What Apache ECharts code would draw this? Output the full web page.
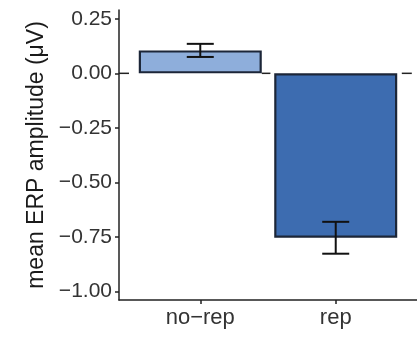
<!DOCTYPE html>
<html>
<head>
<meta charset="utf-8">
<script src="https://cdn.jsdelivr.net/npm/echarts@6/dist/echarts.min.js"></script>
<style>
html,body{margin:0;padding:0;background:#fff;}
#chart{width:417px;height:344px;}
</style>
</head>
<body>
<div id="chart"></div>
<script>
const categories = ['no\u2212rep', 'rep'];
const means = [0.105, -0.753];
const errors = [0.030, 0.073];
const barColors = ['#8eaedb', '#3d6cb0'];
const yTicks = [-1.00, -0.75, -0.50, -0.25, 0.00, 0.25];
const refLineY = [0];

const FONT = 'Liberation Sans';
const BAR_W = 123;
const chart = echarts.init(document.getElementById('chart'));

const barData = means.map((m, i) => ({
  value: [i + 1, m],
  itemStyle: { color: barColors[i] }
}));
const errData = means.map((m, i) => [i + 1, m - errors[i], m + errors[i]]);

chart.setOption({
  animation: false,
  grid: { left: 119, right: 0, top: 10, bottom: 44 },
  xAxis: {
    type: 'value',
    min: 0.4, max: 2.6,
    splitLine: { show: false },
    axisLine: { show: true, onZero: false, lineStyle: { color: '#222', width: 1.5 } },
    axisTick: { show: true, length: 4, customValues: [1, 2], lineStyle: { color: '#222', width: 1.5 } },
    axisLabel: {
      customValues: [1, 2],
      formatter: v => categories[Math.round(v) - 1],
      fontFamily: FONT, fontSize: 22, color: '#333', margin: 7
    }
  },
  yAxis: {
    type: 'value',
    min: -1.038, max: 0.29,
    splitLine: { show: false },
    axisLine: { show: true, lineStyle: { color: '#222', width: 1.5 } },
    axisTick: { show: true, length: 4, customValues: yTicks, lineStyle: { color: '#222', width: 1.5 } },
    axisLabel: {
      customValues: yTicks,
      formatter: v => (v < -1e-9 ? '\u2212' : '') + Math.abs(v).toFixed(2),
      fontFamily: FONT, fontSize: 21, color: '#333', margin: 7
    },
    name: 'mean ERP amplitude (\u03bcV)',
    nameLocation: 'middle',
    nameGap: 70,
    nameTextStyle: { fontFamily: FONT, fontSize: 23, color: '#1a1a1a' }
  },
  series: [
    {
      type: 'custom',
      z: 1,
      silent: true,
      data: refLineY.map(v => [1, v]),
      renderItem: function (params, api) {
        const cs = params.coordSys;
        const y = api.coord([1, api.value(1)])[1];
        // visible gaps: outside the bars
        const edges = [cs.x];
        for (let i = 0; i < means.length; i++) {
          const cx = api.coord([i + 1, 0])[0];
          edges.push(cx - BAR_W / 2, cx + BAR_W / 2);
        }
        edges.push(cs.x + cs.width);
        const children = [];
        for (let k = 0; k < edges.length; k += 2) {
          const x1 = edges[k], x2 = edges[k + 1];
          if (x2 - x1 < 1) continue;
          children.push({
            type: 'line',
            shape: { x1: x1, y1: y, x2: x2, y2: y },
            style: { stroke: '#222', lineWidth: 1.5, lineDash: [10, 10.2], lineDashOffset: x1 - cs.x }
          });
        }
        return { type: 'group', children: children };
      }
    },
    {
      type: 'bar',
      z: 2,
      barWidth: BAR_W,
      data: barData,
      itemStyle: { borderColor: '#1c2638', borderWidth: 2.2 }
    },
    {
      type: 'custom',
      z: 3,
      data: errData,
      renderItem: function (params, api) {
        const x = api.value(0);
        const lo = api.coord([x, api.value(1)]);
        const hi = api.coord([x, api.value(2)]);
        const hw = 13.5;
        const style = { stroke: '#111', lineWidth: 2 };
        return {
          type: 'group',
          children: [
            { type: 'line', shape: { x1: lo[0], y1: lo[1], x2: hi[0], y2: hi[1] }, style },
            { type: 'line', shape: { x1: lo[0] - hw, y1: lo[1], x2: lo[0] + hw, y2: lo[1] }, style },
            { type: 'line', shape: { x1: hi[0] - hw, y1: hi[1], x2: hi[0] + hw, y2: hi[1] }, style }
          ]
        };
      }
    }
  ]
});
</script>
</body>
</html>
